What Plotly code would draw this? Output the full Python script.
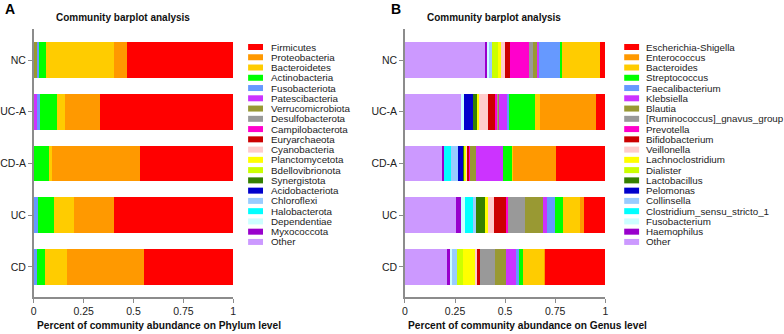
import plotly.graph_objects as go

W, H = 784, 334

samples = ["NC", "UC-A", "CD-A", "UC", "CD"]
x_ticks = [0, 0.25, 0.5, 0.75, 1]
x_tick_labels = ["0", "0.25", "0.5", "0.75", "1"]

phylum_names = ["Firmicutes", "Proteobacteria", "Bacteroidetes", "Actinobacteria",
                "Fusobacteriota", "Patescibacteria", "Verrucomicrobiota", "Desulfobacterota",
                "Campilobacterota", "Euryarchaeota", "Cyanobacteria", "Planctomycetota",
                "Bdellovibrionota", "Synergistota", "Acidobacteriota", "Chloroflexi",
                "Halobacterota", "Dependentiae", "Myxococcota", "Other"]
# values per sample: NC, UC-A, CD-A, UC, CD
phylum_values = [
    [0.533, 0.669, 0.465, 0.598, 0.447],  # Firmicutes
    [0.063, 0.172, 0.445, 0.199, 0.386],  # Proteobacteria
    [0.341, 0.045, 0.012, 0.101, 0.113],  # Bacteroidetes
    [0.038, 0.081, 0.078, 0.083, 0.040],  # Actinobacteria
    [0.010, 0.018, 0.000, 0.020, 0.015],  # Fusobacteriota
    [0.000, 0.015, 0.000, 0.000, 0.000],  # Patescibacteria
    [0.015, 0.000, 0.000, 0.000, 0.000],  # Verrucomicrobiota
    [0.000, 0.000, 0.000, 0.000, 0.000],  # Desulfobacterota
    [0.000, 0.000, 0.000, 0.000, 0.000],  # Campilobacterota
    [0.000, 0.000, 0.000, 0.000, 0.000],  # Euryarchaeota
    [0.000, 0.000, 0.000, 0.000, 0.000],  # Cyanobacteria
    [0.000, 0.000, 0.000, 0.000, 0.000],  # Planctomycetota
    [0.000, 0.000, 0.000, 0.000, 0.000],  # Bdellovibrionota
    [0.000, 0.000, 0.000, 0.000, 0.000],  # Synergistota
    [0.000, 0.000, 0.000, 0.000, 0.000],  # Acidobacteriota
    [0.000, 0.000, 0.000, 0.000, 0.000],  # Chloroflexi
    [0.000, 0.000, 0.000, 0.000, 0.000],  # Halobacterota
    [0.000, 0.000, 0.000, 0.000, 0.000],  # Dependentiae
    [0.000, 0.000, 0.000, 0.000, 0.000],  # Myxococcota
    [0.000, 0.000, 0.000, 0.000, 0.000],  # Other
]

genus_names = ["Escherichia-Shigella", "Enterococcus", "Bacteroides", "Streptococcus",
               "Faecalibacterium", "Klebsiella", "Blautia", "[Ruminococcus]_gnavus_group",
               "Prevotella", "Bifidobacterium", "Veillonella", "Lachnoclostridium",
               "Dialister", "Lactobacillus", "Pelomonas", "Collinsella",
               "Clostridium_sensu_stricto_1", "Fusobacterium", "Haemophilus", "Other"]
genus_values = [
    [0.028, 0.048, 0.245, 0.106, 0.299],  # Escherichia-Shigella
    [0.000, 0.278, 0.214, 0.020, 0.003],  # Enterococcus
    [0.187, 0.023, 0.005, 0.087, 0.110],  # Bacteroides
    [0.008, 0.132, 0.047, 0.038, 0.018],  # Streptococcus
    [0.109, 0.012, 0.000, 0.042, 0.015],  # Faecalibacterium
    [0.008, 0.036, 0.134, 0.019, 0.051],  # Klebsiella
    [0.020, 0.004, 0.028, 0.090, 0.053],  # Blautia
    [0.019, 0.004, 0.000, 0.084, 0.076],  # [Ruminococcus]_gnavus_group
    [0.095, 0.013, 0.006, 0.008, 0.000],  # Prevotella
    [0.027, 0.033, 0.012, 0.061, 0.015],  # Bifidobacterium
    [0.021, 0.047, 0.003, 0.030, 0.006],  # Veillonella
    [0.012, 0.011, 0.006, 0.015, 0.063],  # Lachnoclostridium
    [0.033, 0.000, 0.004, 0.000, 0.033],  # Dialister
    [0.000, 0.019, 0.003, 0.045, 0.000],  # Lactobacillus
    [0.000, 0.044, 0.029, 0.000, 0.000],  # Pelomonas
    [0.013, 0.000, 0.034, 0.015, 0.023],  # Collinsella
    [0.000, 0.000, 0.037, 0.041, 0.000],  # Clostridium_sensu_stricto_1
    [0.008, 0.017, 0.000, 0.018, 0.010],  # Fusobacterium
    [0.009, 0.000, 0.005, 0.026, 0.017],  # Haemophilus
    [0.403, 0.279, 0.188, 0.255, 0.208],  # Other
]

palette = ["#FF0000", "#FF9900", "#FFCC00", "#00FF00", "#6699FF", "#CC33FF", "#999933",
           "#999999", "#FF00CC", "#CC0000", "#FFCCCC", "#FFFF00", "#CCFF00", "#358000",
           "#0000CC", "#99CCFF", "#00FFFF", "#CCFFFF", "#9900CC", "#CC99FF"]

FONT = "Liberation Sans, Arial, sans-serif"


def px(x):
    return x / W


def py(y):
    return (H - y) / H


fig = go.Figure()

panels = [
    dict(names=phylum_names, values=phylum_values, xa="x", ya="y",
         dom=(31, 232), title_x=121, letter="A", letter_x=0,
         axis_title="Percent of community abundance on Phylum level",
         leg_sw=247, leg_tx=268),
    dict(names=genus_names, values=genus_values, xa="x2", ya="y2",
         dom=(405, 607), title_x=495, letter="B", letter_x=389,
         axis_title="Percent of community abundance on Genus level",
         leg_sw=626, leg_tx=646),
]

shapes = []
annotations = []

for p in panels:
    n = len(p["names"])
    # stack: last legend entry (Other) on the left
    for i in reversed(range(n)):
        fig.add_trace(go.Bar(
            y=samples, x=p["values"][i], name=p["names"][i], orientation="h",
            marker=dict(color=palette[i], line=dict(width=0)),
            xaxis=p["xa"], yaxis=p["ya"], showlegend=False))
    # custom compact legend
    for i, nm in enumerate(p["names"]):
        yc = 47 + i * 10.26
        shapes.append(dict(type="rect", xref="paper", yref="paper",
                           x0=px(p["leg_sw"]), x1=px(p["leg_sw"] + 15),
                           y0=py(yc + 3), y1=py(yc - 3),
                           fillcolor=palette[i], line=dict(width=0)))
        annotations.append(dict(text=nm, xref="paper", yref="paper",
                                x=px(p["leg_tx"]), y=py(yc), xanchor="left",
                                yanchor="middle", showarrow=False,
                                font=dict(size=9.8, color="#222", family=FONT)))
    annotations.append(dict(text="<b>Community barplot analysis</b>", xref="paper",
                            yref="paper", x=px(p["title_x"]), y=py(17),
                            xanchor="center", yanchor="middle", showarrow=False,
                            font=dict(size=10, color="#111", family=FONT)))
    annotations.append(dict(text="<b>" + p["letter"] + "</b>", xref="paper",
                            yref="paper", x=px(p["letter_x"]), y=py(9),
                            xanchor="left", yanchor="middle", showarrow=False,
                            font=dict(size=14, color="#000", family=FONT)))
    annotations.append(dict(text="<b>" + p["axis_title"] + "</b>", xref="paper",
                            yref="paper", x=px(p["dom"][0] + 1), y=py(325),
                            xanchor="left", yanchor="middle", showarrow=False,
                            font=dict(size=10.2, color="#111", family=FONT)))

axis_common = dict(showgrid=False, zeroline=False, showline=True, linecolor="#8c8c8c",
                   linewidth=1.5, ticks="outside", ticklen=4, tickcolor="#8c8c8c",
                   tickfont=dict(size=10.5, color="#222", family=FONT))

layout = dict(
    width=W, height=H, margin=dict(l=0, r=0, t=0, b=0),
    paper_bgcolor="white", plot_bgcolor="white",
    barmode="stack", bargap=0.31, showlegend=False,
    shapes=shapes, annotations=annotations,
    font=dict(family=FONT),
)
for k, p in enumerate(panels):
    sx = "" if k == 0 else "2"
    layout["xaxis" + sx] = dict(axis_common, domain=[px(p["dom"][0]), px(p["dom"][1])],
                                range=[0, 1], tickvals=x_ticks, ticktext=x_tick_labels,
                                anchor="y" + sx)
    layout["yaxis" + sx] = dict(axis_common, domain=[py(297), py(29)],
                                range=[4.58, -0.6], type="category",
                                categoryorder="array", categoryarray=samples,
                                anchor="x" + sx)

fig.update_layout(**layout)
fig.write_html("out.html", config={"displayModeBar": False},
               post_script="document.body.style.margin='0';document.body.style.overflow='hidden';")
